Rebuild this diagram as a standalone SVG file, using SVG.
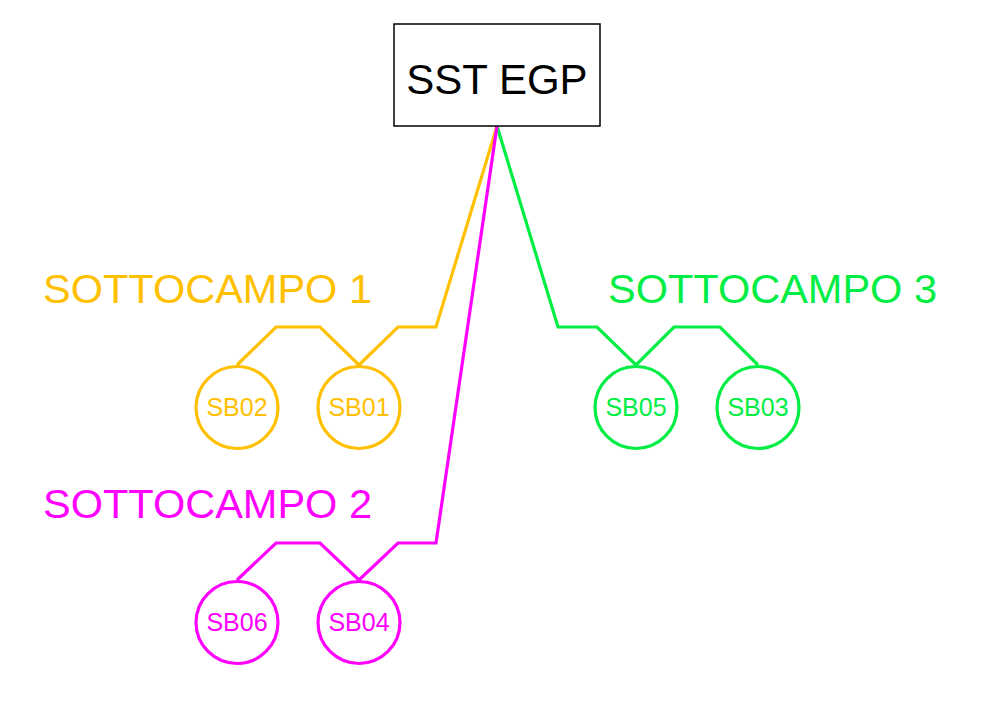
<svg xmlns="http://www.w3.org/2000/svg" width="992" height="701" viewBox="0 0 992 701">
<style>
text{font-family:"Liberation Sans",Arial,sans-serif;}
.o{stroke:#FFC000;fill:none;stroke-width:3.2;}
.m{stroke:#FF00FF;fill:none;stroke-width:3.2;}
.g{stroke:#00EE44;fill:none;stroke-width:3.2;}
.to{fill:#FFC000;}
.tm{fill:#FF00FF;}
.tg{fill:#00EE44;}
.lbl{font-size:41.5px;}
.sb{font-size:25px;text-anchor:middle;}
</style>
<rect width="992" height="701" fill="#fff"/>
<g id="connectors">
<polyline class="o" points="237,365 276,327 320,327 359,365 398,327 436,327 497,126"/>
<polyline class="g" points="497,126 558,327 597,327 636,365 674,327 720,327 758,365"/>
<polyline class="m" points="237,580 276,543 320,543 359,580 398,543 436,543 497,126"/>
</g>
<g id="sst">
<rect x="394" y="24" width="206" height="102" fill="#fff" stroke="#000" stroke-width="1.5"/>
<text x="497" y="94" font-size="42" text-anchor="middle" fill="#000">SST EGP</text>
</g>
<g id="label1"><text class="lbl to" x="43" y="303">SOTTOCAMPO 1</text></g>
<g id="label2"><text class="lbl tm" x="43" y="518">SOTTOCAMPO 2</text></g>
<g id="label3"><text class="lbl tg" x="608" y="303">SOTTOCAMPO 3</text></g>
<g id="SB02"><circle class="o" cx="237" cy="407.5" r="41"/><text class="sb to" x="237" y="416">SB02</text></g>
<g id="SB01"><circle class="o" cx="359" cy="407.5" r="41"/><text class="sb to" x="359" y="416">SB01</text></g>
<g id="SB05"><circle class="g" cx="636" cy="407.5" r="41"/><text class="sb tg" x="636" y="416">SB05</text></g>
<g id="SB03"><circle class="g" cx="758" cy="407.5" r="41"/><text class="sb tg" x="758" y="416">SB03</text></g>
<g id="SB06"><circle class="m" cx="237" cy="622.5" r="41"/><text class="sb tm" x="237" y="631">SB06</text></g>
<g id="SB04"><circle class="m" cx="359" cy="622.5" r="41"/><text class="sb tm" x="359" y="631">SB04</text></g>
</svg>
